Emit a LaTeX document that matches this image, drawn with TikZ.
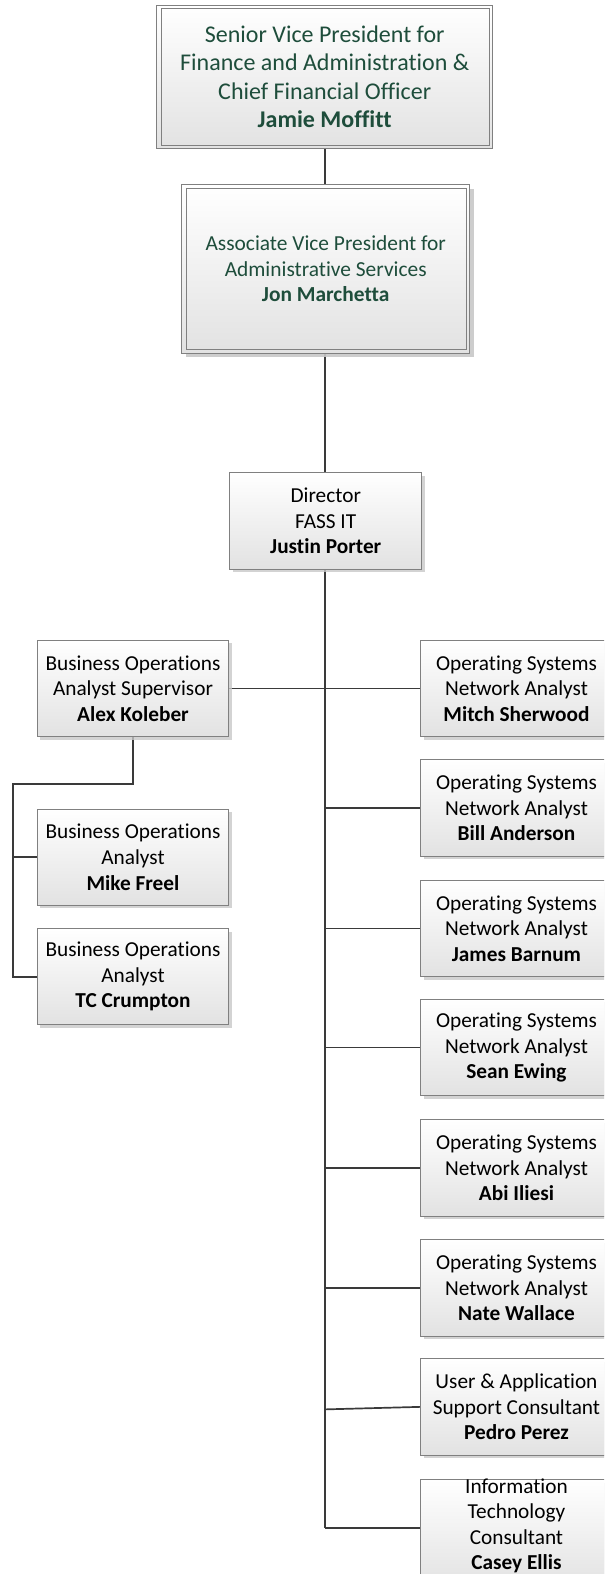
\documentclass[tikz,border=0pt]{standalone}
\usepackage{fontspec}
\setmainfont[Ligatures={NoCommon,NoRequired,NoContextual}]{Carlito}
\usetikzlibrary{shadows,backgrounds}
\definecolor{boxline}{HTML}{808080}
\definecolor{conn}{HTML}{3A3A3A}
\definecolor{dgreen}{HTML}{1E4D3B}
\definecolor{shadeend}{HTML}{E2E2E2}
\definecolor{shad}{HTML}{C8C8C8}
\tikzset{
  orgbox/.style={rectangle, draw=boxline, line width=0.9pt, top color=white, bottom color=shadeend,
    minimum width=191.7pt, minimum height=96.4pt, inner sep=0pt, align=center,
    font=\fontsize{21.3}{25.6}\selectfont,
    drop shadow={shadow xshift=3pt, shadow yshift=-3pt, fill=shad, opacity=0.8}},
  conline/.style={draw=conn, line width=1.7pt},
  execbox/.style={rectangle, draw=boxline, line width=1pt, top color=white, bottom color=shadeend,
    inner sep=0pt, align=center, text=dgreen}
}
\begin{document}
\begin{tikzpicture}[x=1.0038pt,y=-1.0038pt]
\useasboundingbox (0,0) rectangle (601.7,1568);
\clip (0,0) rectangle (601.7,1568);
% top box
\node[execbox, minimum width=336pt, minimum height=143.5pt, font=\fontsize{24}{28.4}\selectfont] (svp) at (323.5,76.5)
  {Senior Vice President for\\Finance and Administration \&\\Chief Financial Officer\\\textbf{Jamie Moffitt}};
\draw[boxline, line width=1pt] ([shift={(5pt,-4pt)}]svp.north west) rectangle ([shift={(-4pt,4pt)}]svp.south east);
% second box
\node[execbox, minimum width=288pt, minimum height=168.5pt, font=\fontsize{21.4}{25.6}\selectfont,
  drop shadow={shadow xshift=4pt, shadow yshift=-4pt, fill=shad, opacity=0.9}] (avp) at (324.5,268)
  {Associate Vice President for\\Administrative Services\\\textbf{Jon Marchetta}};
\draw[boxline, line width=1pt] ([shift={(5pt,-4pt)}]avp.north west) rectangle ([shift={(-4pt,4pt)}]avp.south east);
% director
\node[orgbox] (dir) at (324.5,519) {Director\\FASS IT\\\textbf{Justin Porter}};
% left
\node[orgbox] (sup) at (132.5,686) {Business Operations\\Analyst Supervisor\\\textbf{Alex Koleber}};
\node[orgbox] (mike) at (132.5,854) {Business Operations\\Analyst\\\textbf{Mike Freel}};
\node[orgbox] (tc) at (132.5,973) {Business Operations\\Analyst\\\textbf{TC Crumpton}};
% right
\node[orgbox] (mitch) at (514.5,686) {Operating Systems\\Network Analyst\\\textbf{Mitch Sherwood}};
\node[orgbox] (bill) at (514.5,805) {Operating Systems\\Network Analyst\\\textbf{Bill Anderson}};
\node[orgbox] (james) at (514.5,925) {Operating Systems\\Network Analyst\\\textbf{James Barnum}};
\node[orgbox] (sean) at (514.5,1043.5) {Operating Systems\\Network Analyst\\\textbf{Sean Ewing}};
\node[orgbox] (abi) at (514.5,1163.5) {Operating Systems\\Network Analyst\\\textbf{Abi Iliesi}};
\node[orgbox] (nate) at (514.5,1283) {Operating Systems\\Network Analyst\\\textbf{Nate Wallace}};
\node[orgbox] (pedro) at (514.5,1401.5) {User \& Application\\Support Consultant\\\textbf{Pedro Perez}};
\node[orgbox, minimum height=108pt] (casey) at (514.5,1528) {};
\node[align=center, inner sep=0pt, font=\fontsize{21.3}{25.6}\selectfont] (caseytext) at (514.5,1520)
  {Information\\Technology\\Consultant\\\textbf{Casey Ellis}};
% connectors
\begin{scope}[on background layer]
\fill[white] (0,0) rectangle (601.7,1568);
\coordinate (tbot) at (324,1522);
\draw[conline] (svp.south -| 324,0) -- (avp.north -| 324,0);
\draw[conline] (avp.south -| 324,0) -- (dir.north -| 324,0);
\draw[conline] (dir.south -| 324,0) -- (tbot);
\draw[conline] (sup.east) -- (mitch.west);
\draw[conline] (bill.west -| tbot) -- (bill.west);
\draw[conline] (james.west -| tbot) -- (james.west);
\draw[conline] (sean.west -| tbot) -- (sean.west);
\draw[conline] (abi.west -| tbot) -- (abi.west);
\draw[conline] (nate.west -| tbot) -- (nate.west);
\draw[conline] (324,1404) -- (pedro.west);
\draw[conline] (tbot) -- (tbot -| casey.west);
\coordinate (lbend) at (13,781);
\draw[conline] (sup.south) -- (sup.south |- lbend) -- (lbend) -- (lbend |- tc.west) -- (tc.west);
\draw[conline] (lbend |- mike.west) -- (mike.west);
\end{scope}
\end{tikzpicture}
\end{document}
